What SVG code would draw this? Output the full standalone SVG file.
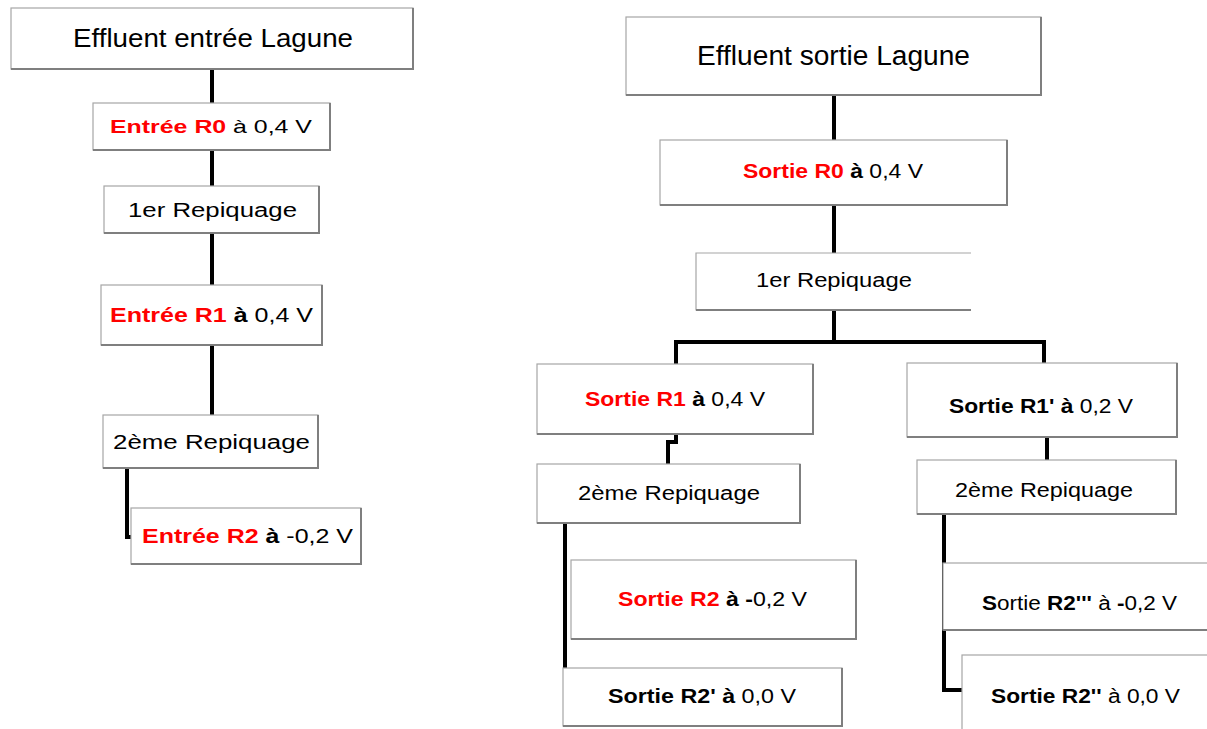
<svg xmlns="http://www.w3.org/2000/svg" width="1207" height="729" viewBox="0 0 1207 729">
<style>
.box{fill:#fff;stroke:#a6a6a6;stroke-width:1.2}
.sh{fill:none;stroke:#7f7f7f;stroke-width:2}
.t{font-family:"Liberation Sans",Arial,sans-serif;fill:#000}
.b{font-weight:bold}
.r{fill:#ff0000;font-weight:bold}
.c{fill:none;stroke:#000;stroke-width:4;stroke-linejoin:miter}
</style>
<rect width="1207" height="729" fill="#fff"/>
<g id="connectors">
<path class="c" d="M212,69 V103"/>
<path class="c" d="M212,150 V186"/>
<path class="c" d="M212,233 V285"/>
<path class="c" d="M212,345 V415"/>
<path class="c" d="M127,468 V537 H132"/>
<path class="c" d="M834,95 V140"/>
<path class="c" d="M834,205 V253"/>
<path class="c" d="M834,310 V342"/>
<path class="c" d="M676,366 V342 H1044 V366"/>
<path class="c" d="M676,434 V442 H668 V465"/>
<path class="c" d="M565,523 V668"/>
<path class="c" d="M1047,437 V460"/>
<path class="c" d="M944,514 V690 H963"/>
</g>
<g id="n_entree_lagune">
<rect class="box" x="11" y="8" width="402" height="61"/>
<path class="sh" d="M11,69 H413 V8"/>
<text class="t" x="73" y="47" font-size="26" textLength="280" lengthAdjust="spacingAndGlyphs">Effluent entrée Lagune</text>
</g>
<g id="n_entree_r0">
<rect class="box" x="93" y="103" width="237" height="47"/>
<path class="sh" d="M93,150 H330 V103"/>
<text class="t" x="110" y="133" font-size="19" textLength="202" lengthAdjust="spacingAndGlyphs"><tspan class="r">Entrée R0</tspan> à 0,4 V</text>
</g>
<g id="n_rep1_left">
<rect class="box" x="104" y="186" width="215" height="47"/>
<path class="sh" d="M104,233 H319 V186"/>
<text class="t" x="128" y="217" font-size="20" textLength="169" lengthAdjust="spacingAndGlyphs">1er Repiquage</text>
</g>
<g id="n_entree_r1">
<rect class="box" x="101" y="285" width="221" height="60"/>
<path class="sh" d="M101,345 H322 V285"/>
<text class="t" x="110" y="322" font-size="20" textLength="203" lengthAdjust="spacingAndGlyphs"><tspan class="r">Entrée R1</tspan> <tspan class="b">à</tspan> 0,4 V</text>
</g>
<g id="n_rep2_left">
<rect class="box" x="103" y="415" width="215" height="53"/>
<path class="sh" d="M103,468 H318 V415"/>
<text class="t" x="113" y="449" font-size="20" textLength="197" lengthAdjust="spacingAndGlyphs">2ème Repiquage</text>
</g>
<g id="n_entree_r2">
<rect class="box" x="131" y="508" width="230" height="56"/>
<path class="sh" d="M131,564 H361 V508"/>
<text class="t" x="142" y="543" font-size="20" textLength="211" lengthAdjust="spacingAndGlyphs"><tspan class="r">Entrée R2</tspan> <tspan class="b">à</tspan> -0,2 V</text>
</g>
<g id="n_sortie_lagune">
<rect class="box" x="626" y="17" width="415" height="78"/>
<path class="sh" d="M626,95 H1041 V17"/>
<text class="t" x="697" y="65" font-size="27" textLength="273" lengthAdjust="spacingAndGlyphs">Effluent sortie Lagune</text>
</g>
<g id="n_sortie_r0">
<rect class="box" x="660" y="140" width="347" height="65"/>
<path class="sh" d="M660,205 H1007 V140"/>
<text class="t" x="743" y="178" font-size="20" textLength="180" lengthAdjust="spacingAndGlyphs"><tspan class="r">Sortie R0</tspan> <tspan class="b">à</tspan> 0,4 V</text>
</g>
<g id="n_rep1_right">
<path d="M971,253 H696 V310 H971" fill="#fff" stroke="#a6a6a6" stroke-width="1.2"/>
<path class="sh" d="M696,310 H971"/>
<text class="t" x="756" y="287" font-size="20" textLength="156" lengthAdjust="spacingAndGlyphs">1er Repiquage</text>
</g>
<g id="n_sortie_r1">
<rect class="box" x="537" y="364" width="276" height="70"/>
<path class="sh" d="M537,434 H813 V364"/>
<text class="t" x="585" y="406" font-size="20" textLength="180" lengthAdjust="spacingAndGlyphs"><tspan class="r">Sortie R1</tspan> <tspan class="b">à</tspan> 0,4 V</text>
</g>
<g id="n_sortie_r1p">
<rect class="box" x="907" y="363" width="270" height="74"/>
<path class="sh" d="M907,437 H1177 V363"/>
<text class="t" x="949" y="413" font-size="20" textLength="184" lengthAdjust="spacingAndGlyphs"><tspan class="b">Sortie R1' à</tspan> 0,2 V</text>
</g>
<g id="n_rep2_mid">
<rect class="box" x="537" y="464" width="263" height="59"/>
<path class="sh" d="M537,523 H800 V464"/>
<text class="t" x="578" y="500" font-size="20" textLength="182" lengthAdjust="spacingAndGlyphs">2ème Repiquage</text>
</g>
<g id="n_rep2_right">
<rect class="box" x="917" y="460" width="259" height="54"/>
<path class="sh" d="M917,514 H1176 V460"/>
<text class="t" x="955" y="497" font-size="20" textLength="178" lengthAdjust="spacingAndGlyphs">2ème Repiquage</text>
</g>
<g id="n_sortie_r2">
<rect class="box" x="571" y="560" width="285" height="79"/>
<path class="sh" d="M571,639 H856 V560"/>
<text class="t" x="618" y="606" font-size="20" textLength="189" lengthAdjust="spacingAndGlyphs"><tspan class="r">Sortie R2</tspan> <tspan class="b">à -</tspan>0,2 V</text>
</g>
<g id="n_sortie_r2p">
<rect class="box" x="563" y="668" width="279" height="58"/>
<path class="sh" d="M563,726 H842 V668"/>
<text class="t" x="608" y="703" font-size="20" textLength="188" lengthAdjust="spacingAndGlyphs"><tspan class="b">Sortie R2' à</tspan> 0,0 V</text>
</g>
<g id="n_sortie_r2ppp">
<rect class="box" x="943" y="563" width="280" height="67"/>
<path class="sh" d="M943,630 H1210"/>
<text class="t" x="982" y="610" font-size="20" textLength="195" lengthAdjust="spacingAndGlyphs"><tspan class="b">S</tspan>ortie <tspan class="b">R2'''</tspan> à <tspan class="b">-</tspan>0,2 V</text>
</g>
<g id="n_sortie_r2pp">
<rect class="box" x="962" y="655" width="260" height="90"/>
<text class="t" x="991" y="703" font-size="20" textLength="189" lengthAdjust="spacingAndGlyphs"><tspan class="b">Sortie R2''</tspan> à 0,0 V</text>
</g>
</svg>
